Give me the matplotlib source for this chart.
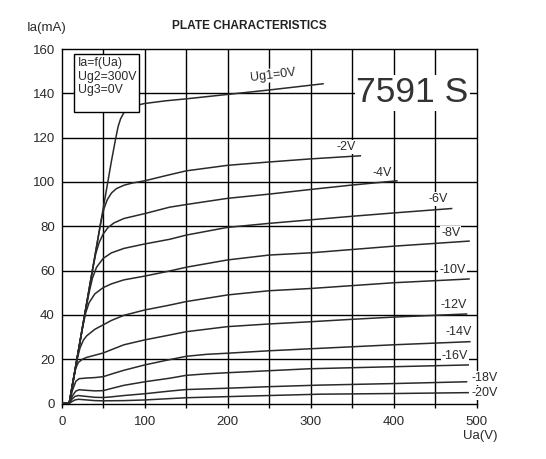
import matplotlib
matplotlib.use("Agg")
import matplotlib.pyplot as plt
from matplotlib import font_manager
from matplotlib.patches import Rectangle

# ---- data: plate current Ia (mA) versus plate voltage Ua (V) per grid-1 bias ----
ua_0 = [0, 9, 20, 30, 40, 50, 60, 65, 68, 71, 75, 80, 90, 100, 125, 150, 200, 250, 315]
ia_0 = [0, 0, 23.5, 45, 66.5, 88, 109.5, 119.5, 125, 128.5, 131.3, 133, 134.6, 135.4, 136.6, 137.5, 139.5, 141.5, 144.3]

ua_2 = [0, 9, 20, 30, 40, 47, 51, 55, 60, 66, 75, 85, 100, 125, 150, 200, 250, 300, 360]
ia_2 = [0, 0, 23.5, 45, 66.5, 81.5, 88, 92, 95, 97, 98.5, 99.5, 100.5, 102.8, 105, 107.5, 109, 110.4, 111.8]

ua_4 = [0, 9, 20, 30, 37, 41, 45, 50, 56, 63, 75, 100, 130, 150, 200, 250, 300, 350, 404]
ia_4 = [0, 0, 23.5, 45, 60, 67.5, 72.5, 76.5, 79.5, 81.5, 83.5, 85.7, 88.6, 89.8, 92.6, 94.5, 96.6, 98.6, 100.5]

ua_6 = [0, 9, 20, 28, 33, 37, 42, 50, 60, 75, 100, 130, 150, 200, 250, 300, 350, 400, 470]
ia_6 = [0, 0, 23.5, 40.8, 50, 56.5, 61.5, 65.5, 68, 70, 72, 74.1, 76, 79.5, 81.3, 82.9, 84.5, 86, 88]

ua_8 = [0, 9, 20, 25, 29, 33, 40, 50, 60, 75, 100, 130, 150, 200, 250, 300, 350, 400, 491]
ia_8 = [0, 0, 23.5, 34, 41, 45.5, 49.5, 52.3, 54, 55.8, 57.5, 59.8, 61.5, 64.8, 67, 68, 69.5, 71, 73.3]

ua_10 = [0, 9, 15, 19, 22, 26, 30, 40, 50, 60, 75, 100, 130, 150, 200, 250, 300, 350, 400, 491]
ia_10 = [0, 0, 12.5, 20.5, 25, 28.5, 30.5, 33.5, 35.5, 37.5, 39.8, 42.2, 44.4, 46, 49, 50.9, 51.9, 53.2, 54.5, 56.2]

ua_12 = [0, 9, 14, 17, 20, 25, 30, 40, 50, 60, 75, 100, 130, 150, 200, 250, 300, 350, 400, 488]
ia_12 = [0, 0, 10.5, 16, 18.5, 20, 20.8, 21.8, 22.8, 24.3, 26.5, 28.7, 30.9, 32.4, 34.7, 35.9, 36.9, 38, 39, 40.4]

ua_14 = [0, 9, 13, 17, 21, 30, 40, 50, 60, 75, 100, 125, 150, 175, 200, 250, 300, 350, 400, 492]
ia_14 = [0, 0, 6, 10, 11.2, 11.5, 11.7, 12.1, 13.3, 15, 17.4, 19.4, 21.3, 22.2, 22.7, 23.8, 24.7, 25.6, 26.5, 27.9]

ua_16 = [0, 9, 13, 17, 21, 28, 40, 50, 60, 75, 100, 130, 150, 175, 200, 250, 300, 400, 490]
ia_16 = [0, 0, 3.5, 5.6, 6.2, 6, 5.7, 5.8, 6.8, 8.2, 9.8, 11.4, 12.7, 13.4, 13.9, 14.8, 15.7, 16.6, 17.4]

ua_18 = [0, 9, 12, 16, 20, 27, 40, 50, 60, 75, 100, 130, 150, 200, 250, 311, 400, 488]
ia_18 = [0, 0, 1.8, 3.2, 3.6, 3.3, 2.8, 2.7, 3, 3.6, 4.4, 5.6, 6.3, 6.9, 7.6, 8.3, 9, 9.8]

ua_20 = [0, 9, 12, 16, 20, 27, 40, 50, 75, 100, 130, 150, 200, 250, 311, 400, 490]
ia_20 = [0, 0, 0.8, 1.6, 1.9, 1.7, 1.3, 1.2, 1.3, 1.6, 2.2, 2.6, 3.1, 3.6, 4.2, 4.5, 4.9]

curves = [(ua_0, ia_0), (ua_2, ia_2), (ua_4, ia_4), (ua_6, ia_6), (ua_8, ia_8),
          (ua_10, ia_10), (ua_12, ia_12), (ua_14, ia_14), (ua_16, ia_16),
          (ua_18, ia_18), (ua_20, ia_20)]

bias_labels = ["Ug1=0V", "-2V", "-4V", "-6V", "-8V", "-10V", "-12V", "-14V", "-16V", "-18V", "-20V"]
label_x = [255, 343, 386, 454, 469, 471, 472, 478, 474, 510, 510]
label_y = [148.2, 115.7, 104.2, 92.3, 76.9, 60.2, 44.4, 32.3, 21.4, 11.5, 4.7]

x_ticks = [0, 100, 200, 300, 400, 500]
y_ticks = [0, 20, 40, 60, 80, 100, 120, 140, 160]

legend_lines = ["Ia=f(Ua)", "Ug2=300V", "Ug3=0V"]

# ---- fonts ----
names = {f.name for f in font_manager.fontManager.ttflist}
sans = "Liberation Sans"
narrow = "Liberation Sans Narrow" if "Liberation Sans Narrow" in names else sans
plt.rcParams["font.family"] = [sans, "DejaVu Sans"]
title_size = 10.4 if narrow != sans else 8.6
type_size = 28 if narrow != sans else 25.5

ink = "#2a2a2a"

fig = plt.figure(figsize=(5.46, 4.59), dpi=100)
ax = fig.add_axes([61.7 / 546, (459 - 403.5) / 459, (476.5 - 61.7) / 546, (403.5 - 49) / 459])
ax.set_xlim(0, 500)
ax.set_ylim(0, 160)

# grid: every 50 V and every 20 mA
for gx in range(50, 500, 50):
    ax.axvline(gx, color="black", lw=1.0, zorder=1)
for gy in y_ticks[1:-1]:
    ax.axhline(gy, color="black", lw=1.0, zorder=1)
for s in ax.spines.values():
    s.set_linewidth(1.0)
    s.set_color("black")
    s.set_zorder(1)

ax.set_xticks(x_ticks)
ax.set_xticks(list(range(50, 500, 100)), minor=True)
ax.set_yticks(y_ticks)
ax.tick_params(axis="x", which="both", direction="out", length=3, width=1.0,
               pad=6, labelsize=9.5, labelcolor=ink)
ax.tick_params(axis="y", which="both", length=0, pad=5, labelsize=9.5, labelcolor=ink)

for ua, ia in curves:
    ax.plot(ua, ia, color=ink, lw=1.1, zorder=3, solid_joinstyle="round")

box = dict(facecolor="white", edgecolor="none", pad=0.6)
for i, (txt, lx, ly) in enumerate(zip(bias_labels, label_x, label_y)):
    rot = 7 if i == 0 else 0
    ax.text(lx, ly, txt, ha="center", va="center", fontsize=9, color=ink,
            rotation=rot, bbox=box, zorder=4, clip_on=False)

# type designation
ax.text(423, 140.3, "7591 S", ha="center", va="center", fontsize=type_size,
        family=[narrow, sans], color="#333333",
        bbox=dict(facecolor="white", edgecolor="none", pad=1), zorder=4)

# operating conditions box
ax.add_patch(Rectangle((15.2, 131.7), 78.0, 25.9, facecolor="white",
                       edgecolor="black", lw=1.0, zorder=4))
for line, ly in zip(legend_lines, [153.5, 147.3, 141.5]):
    ax.text(19.3, ly, line, ha="left", va="center", fontsize=8.8, color=ink, zorder=5)

fig.text(249 / 546, 1 - 26 / 459, "PLATE CHARACTERISTICS", ha="center", va="center",
         fontsize=title_size, fontweight="bold", family=[narrow, sans], color="#222222")
fig.text(47 / 546, 1 - 28.5 / 459, "Ia(mA)", ha="center", va="center",
         fontsize=9.5, color=ink)
fig.text(480 / 546, 1 - 436 / 459, "Ua(V)", ha="center", va="center",
         fontsize=9.5, color=ink)

fig.savefig("out.png", dpi=100, facecolor="white")
